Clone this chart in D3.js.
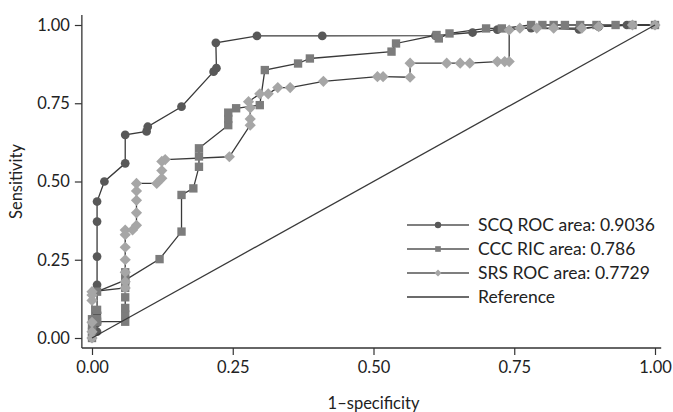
<!DOCTYPE html>
<html>
<head>
<meta charset="utf-8">
<script src="https://cdn.jsdelivr.net/npm/d3@7"></script>
<style>
  body { margin: 0; background: #fff; }
  svg text { font-family: Lato, "Noto Sans", sans-serif; fill: #222; }
</style>
</head>
<body>
<svg id="chart"></svg>
<script>
// ROC points as [1-specificity, sensitivity], in drawing order
const scq = [
  [0, 0], [0.009, 0.02], [0.009, 0.048], [0.009, 0.08], [0.009, 0.17], [0.009, 0.26],
  [0.009, 0.372], [0.009, 0.436], [0.022, 0.5], [0.059, 0.558], [0.059, 0.649],
  [0.097, 0.66], [0.099, 0.675], [0.159, 0.739], [0.216, 0.851], [0.221, 0.862],
  [0.22, 0.943], [0.293, 0.965], [0.409, 0.965], [0.61, 0.966], [0.676, 0.976],
  [0.72, 0.985], [0.78, 0.99], [0.865, 0.986], [0.9, 0.995], [0.95, 1], [1, 1]
];
const ccc = [
  [0, 0], [0, 0.02], [0, 0.04], [0, 0.06], [0.009, 0.06], [0.009, 0.09], [0.009, 0.052],
  [0.059, 0.052], [0.059, 0.075], [0.059, 0.096], [0.059, 0.13], [0.059, 0.16],
  [0.059, 0.21], [0.059, 0.185], [0.009, 0.148], [0.059, 0.185], [0.12, 0.252],
  [0.159, 0.34], [0.159, 0.457], [0.18, 0.478], [0.19, 0.547], [0.19, 0.58],
  [0.19, 0.606], [0.242, 0.68], [0.242, 0.70], [0.242, 0.72], [0.256, 0.734],
  [0.298, 0.744], [0.307, 0.856], [0.366, 0.877], [0.387, 0.893], [0.532, 0.915],
  [0.54, 0.941], [0.612, 0.968], [0.616, 0.957], [0.635, 0.973], [0.70, 0.989],
  [0.728, 0.989], [0.78, 1], [0.80, 1], [0.82, 1], [0.84, 1], [0.867, 1], [0.896, 1],
  [0.93, 1], [0.96, 1], [1, 1]
];
const srs = [
  [0, 0], [0, 0.02], [0, 0.05], [0, 0.12], [0, 0.137], [0, 0.148], [0.059, 0.16],
  [0.059, 0.18], [0.059, 0.21], [0.059, 0.25], [0.059, 0.29], [0.059, 0.33],
  [0.059, 0.345], [0.072, 0.345], [0.079, 0.36], [0.079, 0.40], [0.079, 0.44],
  [0.079, 0.47], [0.079, 0.494], [0.115, 0.494], [0.124, 0.51], [0.124, 0.535],
  [0.124, 0.564], [0.13, 0.57], [0.244, 0.579], [0.281, 0.68], [0.281, 0.70],
  [0.281, 0.735], [0.278, 0.755], [0.298, 0.78], [0.313, 0.78], [0.33, 0.80],
  [0.352, 0.80], [0.411, 0.82], [0.507, 0.835], [0.517, 0.835], [0.565, 0.833],
  [0.565, 0.878], [0.63, 0.878], [0.654, 0.878], [0.671, 0.878], [0.72, 0.883],
  [0.733, 0.883], [0.741, 0.883], [0.741, 0.984], [0.76, 0.99], [0.79, 0.99],
  [0.82, 0.99], [0.87, 0.99], [0.9, 0.995], [0.96, 1], [1, 1]
];
const reference = [[0, 0], [1, 1]];

const ticks = [0, 0.25, 0.5, 0.75, 1];
const legendLabels = ["SCQ ROC area: 0.9036", "CCC RIC area: 0.786", "SRS ROC area: 0.7729", "Reference"];

const width = 673, height = 412;
const lineColor = "#3a3a3a";

const svg = d3.select("#chart").attr("width", width).attr("height", height);

const x = d3.scaleLinear().domain([0, 1]).range([92, 655]);
const y = d3.scaleLinear().domain([0, 1]).range([338, 25]);

// axes (the axis lines run a bit past the data range, like Stata)
const axisCol = "#333";
svg.append("line")
  .attr("x1", x(-0.018)).attr("x2", x(1.011))
  .attr("y1", y(-0.032)).attr("y2", y(-0.032))
  .attr("stroke", axisCol).attr("stroke-width", 1.3);
svg.append("line")
  .attr("x1", x(-0.018)).attr("x2", x(-0.018))
  .attr("y1", y(-0.032)).attr("y2", y(1.032))
  .attr("stroke", axisCol).attr("stroke-width", 1.3);

const xAxis = svg.append("g")
  .attr("transform", `translate(0,${y(-0.032)})`)
  .call(d3.axisBottom(x).tickValues(ticks).tickFormat(d3.format(".2f")).tickSize(7).tickPadding(6));
const yAxis = svg.append("g")
  .attr("transform", `translate(${x(-0.018)},0)`)
  .call(d3.axisLeft(y).tickValues(ticks).tickFormat(d3.format(".2f")).tickSize(7).tickPadding(5));
[xAxis, yAxis].forEach(g => {
  g.select(".domain").remove();
  g.selectAll(".tick line").attr("stroke", axisCol).attr("stroke-width", 1.2);
  g.selectAll(".tick text").attr("font-size", 16.5).attr("fill", "#222")
    .style("font-family", "Lato, 'Noto Sans', sans-serif");
});

svg.append("text")
  .attr("x", (x(0) + x(1)) / 2).attr("y", 409)
  .attr("text-anchor", "middle").attr("font-size", 16.5)
  .text("1–specificity");
svg.append("text")
  .attr("transform", `translate(22,${y(0.5)}) rotate(-90)`)
  .attr("text-anchor", "middle").attr("font-size", 16.5)
  .text("Sensitivity");

const line = d3.line().x(d => x(d[0])).y(d => y(d[1]));

const series = [
  { data: scq, shape: d3.symbolCircle, size: 60, fill: "#585858" },
  { data: ccc, shape: d3.symbolSquare, size: 70, fill: "#7c7c7c" },
  { data: srs, shape: d3.symbolDiamond2, size: 80, fill: "#a6a6a6" }
];

series.forEach(s => {
  svg.append("path").datum(s.data)
    .attr("d", line).attr("fill", "none")
    .attr("stroke", lineColor).attr("stroke-width", 1.3);
});
series.forEach(s => {
  svg.append("g").selectAll("path")
    .data(s.data).enter().append("path")
    .attr("transform", d => `translate(${x(d[0])},${y(d[1])})`)
    .attr("d", d3.symbol().type(s.shape).size(s.size))
    .attr("fill", s.fill);
});

svg.append("path").datum(reference)
  .attr("d", line).attr("fill", "none")
  .attr("stroke", lineColor).attr("stroke-width", 1.3);

// legend
const legendY = [225, 249, 273, 297];
legendLabels.forEach((lab, i) => {
  const g = svg.append("g").attr("transform", `translate(0,${legendY[i]})`);
  g.append("line").attr("x1", 407).attr("x2", 469).attr("y1", 0).attr("y2", 0)
    .attr("stroke", i < 3 ? "#555" : lineColor).attr("stroke-width", 1.4);
  if (i < 3) {
    g.append("path").attr("transform", "translate(438,0)")
      .attr("d", d3.symbol().type(series[i].shape).size(32))
      .attr("fill", series[i].fill);
  }
  g.append("text").attr("x", 478).attr("y", 0).attr("dy", "0.35em")
    .attr("font-size", 17.5).text(lab);
});
</script>
</body>
</html>
